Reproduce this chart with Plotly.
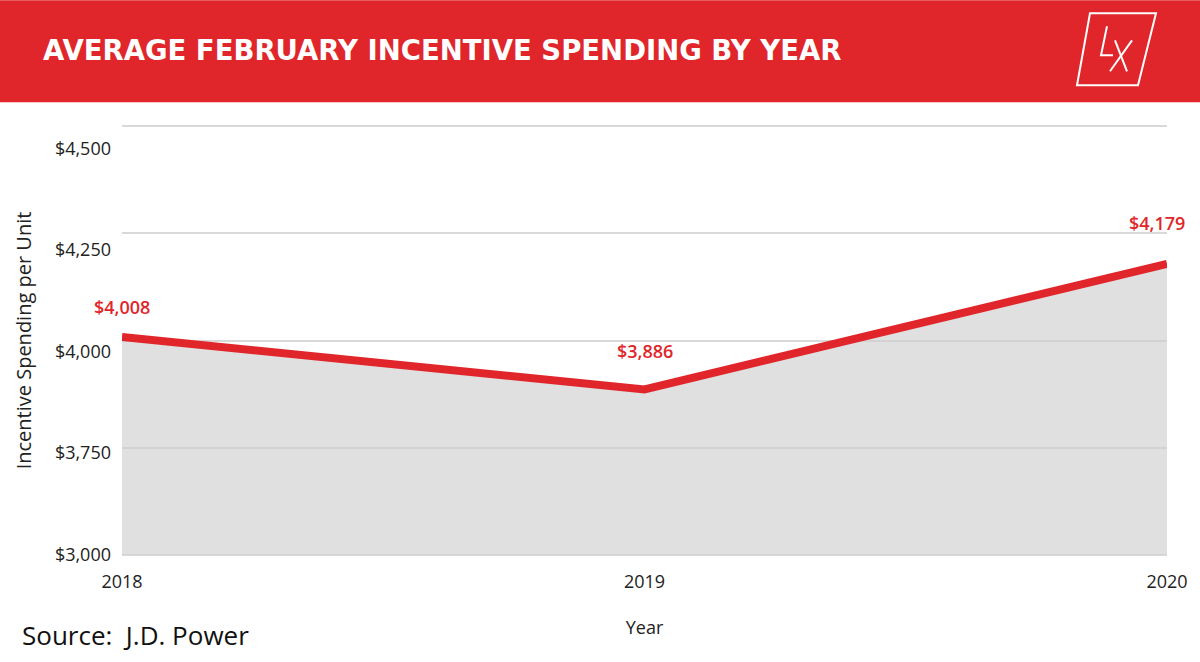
import plotly.graph_objects as go

# Data
years = [2018, 2019, 2020]
spending = [4008, 3886, 4179]
tick_values = [3000, 3750, 4000, 4250, 4500]
tick_labels = ['$3,000', '$3,750', '$4,000', '$4,250', '$4,500']

RED = '#E0262A'
FONT = 'Open Sans'

W, H = 1200, 662
# band positions 0..4 sit between pixel 555 (bottom) and 126 (top)
Y_LO, Y_HI = -0.03, 4.03
BAND = (555 - 126) / 4
ML, MR = 122, 33
MT = 126 - (Y_HI - 4) * BAND
MB = H - 555 - (0 - Y_LO) * BAND
PW, PH = W - ML - MR, H - MT - MB


def px_x(p):
    return (p - ML) / PW


def px_y(p):
    return (H - MB - p) / PH


# broken axis: $3,000 -> 0, then one band per $250 above $3,750
def axis_pos(v):
    if v <= 3750:
        return (v - 3000) / 750
    return 1 + (v - 3750) / 250


y_pos = [axis_pos(v) for v in spending]
grid_pos = [axis_pos(v) for v in tick_values]
# labels sit on an evenly spaced scale slightly below the gridlines
label_pos = [i * 101.75 / BAND for i in range(len(tick_values))]

fig = go.Figure()

fig.add_trace(go.Scatter(
    x=years, y=y_pos,
    mode='lines',
    line=dict(color=RED, width=8),
    fill='tozeroy',
    fillcolor='rgba(206,206,206,0.63)',
    hoverinfo='skip',
    showlegend=False
))

# labels on an overlaying axis
fig.add_trace(go.Scatter(
    x=years, y=y_pos, yaxis='y2', mode='none',
    showlegend=False, hoverinfo='skip'
))

# data labels
label_shift = [(0, 30), (0, 38), (-10, 41)]
for x, y, v, (dx, dy) in zip(years, y_pos, spending, label_shift):
    fig.add_annotation(
        x=x, y=y, text=f'${v:,}', showarrow=False,
        xshift=dx, yshift=dy,
        font=dict(family=FONT, size=18, color=RED, weight=600)
    )

# header band
fig.add_shape(type='rect', xref='paper', yref='paper',
              x0=px_x(0), x1=px_x(W), y0=px_y(102), y1=px_y(0),
              fillcolor=RED, line=dict(width=0), layer='below')

fig.add_annotation(
    xref='paper', yref='paper', x=px_x(41), y=px_y(50),
    xanchor='left', yanchor='middle', showarrow=False,
    text='<b>AVERAGE FEBRUARY INCENTIVE SPENDING BY YEAR</b>',
    font=dict(family='DejaVu Sans', size=27.5, color='white')
)


# logo: parallelogram with a slanted "LX"
def path(points, close=False):
    d = ' '.join(('M' if i == 0 else 'L') + f' {px_x(a)},{px_y(b)}'
                 for i, (a, b) in enumerate(points))
    return d + (' Z' if close else '')


logo = [
    path([(1077, 85), (1138, 85), (1156, 13), (1090, 13)], close=True),
    path([(1107, 26), (1101, 55), (1113, 55)]),
    path([(1115, 40), (1127, 71)]),
    path([(1132, 40), (1110, 71)]),
]
for d in logo:
    fig.add_shape(type='path', xref='paper', yref='paper', path=d,
                  line=dict(color='white', width=2),
                  fillcolor='rgba(0,0,0,0)')

# source
fig.add_annotation(
    xref='paper', yref='paper', x=px_x(20), y=px_y(635),
    xanchor='left', yanchor='middle', showarrow=False,
    text='Source:  J.D. Power',
    font=dict(family=FONT, size=26, color='#111111')
)

fig.update_layout(
    width=W, height=H,
    margin=dict(l=ML, r=MR, t=MT, b=MB),
    paper_bgcolor='white', plot_bgcolor='white',
    font=dict(family=FONT, size=18, color='#222222'),
    xaxis=dict(
        range=[2018, 2020], tickvals=years, ticktext=[str(y) for y in years],
        showgrid=False, zeroline=False, showline=False,
        ticks='', ticklen=0, ticklabelstandoff=11,
        title=dict(text='Year', standoff=29, font=dict(size=18)),
        tickfont=dict(size=18)
    ),
    yaxis=dict(
        range=[Y_LO, Y_HI], tickvals=grid_pos, showticklabels=False,
        showgrid=True, gridcolor='#D9D9D9', gridwidth=1.5,
        zeroline=False, showline=False,
        title=dict(text='Incentive Spending per Unit', standoff=84,
                   font=dict(size=20))
    ),
    yaxis2=dict(
        range=[Y_LO, Y_HI], overlaying='y', side='left',
        tickvals=label_pos, ticktext=tick_labels,
        showgrid=False, zeroline=False, showline=False,
        tickfont=dict(size=18), ticks='', ticklabelstandoff=10
    ),
)

fig.write_html('out.html', config={'displayModeBar': False},
               post_script="document.body.style.margin='0';")
